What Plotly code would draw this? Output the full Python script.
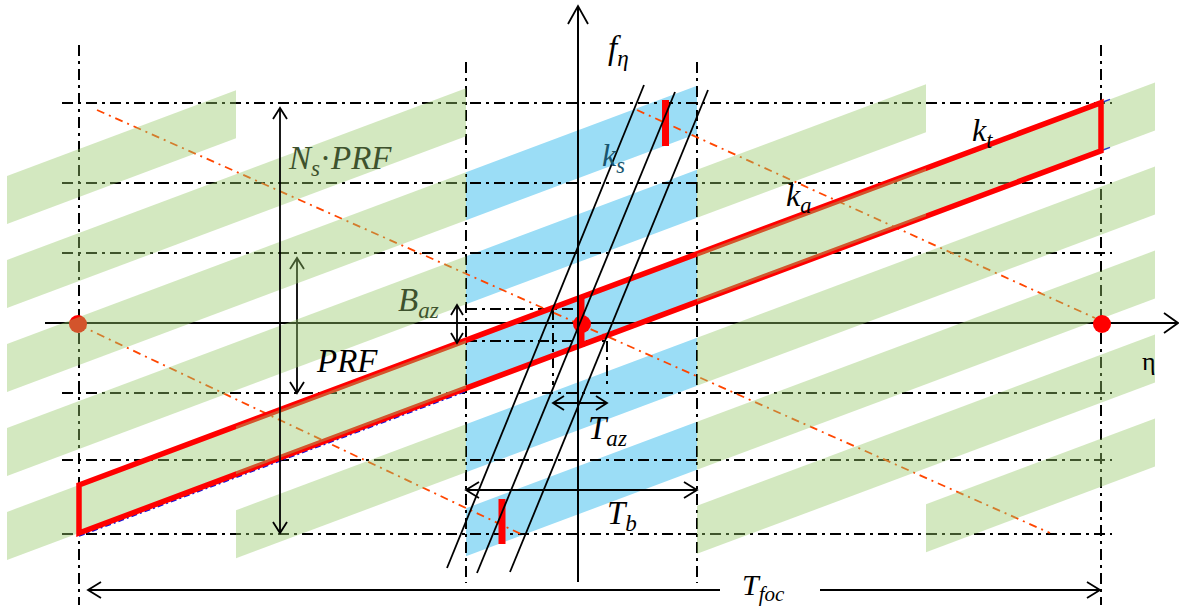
import math
import plotly.graph_objects as go

# ---------------------------------------------------------------------------
# Diagram data (eta to the right, f_eta downward in canvas units)
# ---------------------------------------------------------------------------
# Periodic spectrum replicas, grouped in columns along eta
col_edges = [7, 236, 466, 697, 926, 1155]
col_first_band = [-4, -3, -2, -1, 0]
bands_per_col = 5
col_kind = ["green", "green", "blue", "green", "green"]
col_over_outline = [False, True, False, True, False]

# Reference replica n = 0: top edge through (79, 485) with slope k_t
band_ref_eta, band_ref_f = 79, 485
band_slope = -0.374
band_period = 84
band_height = 48

# k_t outline (focused target support) spans this eta interval
outline_eta = [79, 1101]

# Dash-dot reference grid
grid_f = [103, 183, 253, 393, 460, 534]
grid_f_span = [62, 1112]
grid_eta = [79, 466, 697, 1101]
grid_eta_top = [45, 62, 62, 45]
grid_eta_bottom = [605, 583, 583, 605]

# k_a (azimuth FM rate) lines
ka_lines = [[(97, 110), (1050, 533)],
            [(637, 110), (1095, 318)],
            [(79, 325), (523, 535)]]

# k_s (steering rate) lines
ks_lines = [[(644, 85), (447, 568)],
            [(675, 92), (477, 573)],
            [(708, 90), (510, 572)]]

# Target spectra (bars) and zero-Doppler points
bar_eta = [665.5, 502, 581]
bar_f0 = [100, 499, 298]
bar_f1 = [146, 544, 347]
dot_eta = [78, 582, 1102]
dot_f = [324, 324, 324]

# Dimension arrows: (start, end)
dims = {
    "Ns_PRF": [(280, 108), (280, 533)],
    "PRF": [(297, 258), (297, 393)],
    "B_az": [(457, 305), (457, 343)],
    "T_az": [(553, 403), (607, 403)],
    "T_b": [(466, 490), (697, 490)],
    "T_foc": [(88, 590), (1100, 590)],
}
t_foc_gap = [720, 820]

# Helper dashes for B_az / T_az
baz_levels = [(309, 466, 583), (341, 466, 607)]
taz_marks = [(553, 309, 385), (607, 341, 385)]

# Axes
eta_axis = [(45, 323), (1178, 323)]
f_axis = [(578, 582), (578, 6)]

# ---------------------------------------------------------------------------
GREEN = "rgba(150,200,105,0.42)"
BLUE = "rgb(155,221,246)"
RED = "rgb(255,0,0)"
ORANGE = "rgb(255,70,0)"
BLACK = "black"
DASHDOT = "11px,5px,3px,5px"
ORANGE_DASH = "8px,5px,2px,5px"
FONT = "Liberation Serif"

shapes = []


def band_top(eta, n):
    return band_ref_f + band_slope * (eta - band_ref_eta) + band_period * n


def line(p0, p1, color=BLACK, width=1.8, dash="solid"):
    shapes.append(dict(type="line", xref="x", yref="y",
                       x0=p0[0], y0=p0[1], x1=p1[0], y1=p1[1],
                       line=dict(color=color, width=width, dash=dash)))


def path(d, fill=None, color=BLACK, width=1.8):
    s = dict(type="path", xref="x", yref="y", path=d,
             line=dict(color=color, width=width))
    if fill:
        s["fillcolor"] = fill
        s["line"] = dict(width=0)
    shapes.append(s)


def vhead(tip, frm, length=12, half=7, width=1.8):
    dx, dy = tip[0] - frm[0], tip[1] - frm[1]
    L = math.hypot(dx, dy)
    ux, uy = dx / L, dy / L
    bx, by = tip[0] - ux * length, tip[1] - uy * length
    px, py = -uy, ux
    path(f"M{bx + px * half},{by + py * half} L{tip[0]},{tip[1]} "
         f"L{bx - px * half},{by - py * half}", width=width)


def double_arrow(a, b, length=12, half=7):
    line(a, b)
    vhead(a, b, length, half)
    vhead(b, a, length, half)


def column_bands(i, color):
    x0, x1 = col_edges[i], col_edges[i + 1]
    for k in range(bands_per_col):
        n = col_first_band[i] + k
        y0a, y0b = band_top(x0, n), band_top(x1, n)
        path(f"M{x0},{y0a} L{x1},{y0b} L{x1},{y0b + band_height} "
             f"L{x0},{y0a + band_height} Z", fill=color)


def dot(eta, f, r=9):
    shapes.append(dict(type="circle", xref="x", yref="y",
                       x0=eta - r, x1=eta + r, y0=f - r, y1=f + r,
                       fillcolor=RED, line=dict(width=0)))


# 1. steered (blue) replica column
for i, kind in enumerate(col_kind):
    if kind == "blue":
        column_bands(i, BLUE)

# 2. dash-dot grid
for y in grid_f:
    line((grid_f_span[0], y), (grid_f_span[1], y), width=2, dash=DASHDOT)
for x, t, b in zip(grid_eta, grid_eta_top, grid_eta_bottom):
    line((x, t), (x, b), width=2, dash=DASHDOT)
for y, xa, xb in baz_levels:
    line((xa, y), (xb, y), width=2, dash=DASHDOT)
for x, ya, yb in taz_marks:
    line((x, ya), (x, yb), width=2, dash=DASHDOT)

# 3. eta axis
line(*eta_axis, width=2)
vhead(eta_axis[1], eta_axis[0], length=14, half=10)

# 4. k_a lines
for p0, p1 in ka_lines:
    line(p0, p1, color=ORANGE, width=1.8, dash=ORANGE_DASH)

# 5. left zero-Doppler point and PRF arrow (under the replicas)
dot(dot_eta[0], dot_f[0])
double_arrow(*dims["PRF"], length=11, half=7)

# 6. replicas drawn beneath the outline
for i, kind in enumerate(col_kind):
    if kind == "green" and not col_over_outline[i]:
        column_bands(i, GREEN)

# 7. k_t outline
xa, xb = outline_eta
ta, tb = band_top(xa, 0), band_top(xb, 0)
line((xa, ta + band_height + 3), (466, band_top(466, 0) + band_height + 3),
     color="rgb(20,20,220)", width=1.8, dash="6px,3px,2px,3px")
line((xb, tb), (xb + 9, band_top(xb + 9, 0)), color="rgb(40,60,200)", width=1.5)
line((xb, tb + band_height), (xb + 9, band_top(xb + 9, 0) + band_height),
     color="rgb(40,60,200)", width=1.5)
shapes.append(dict(type="path", xref="x", yref="y",
                   path=f"M{xa},{ta} L{xb},{tb} L{xb},{tb + band_height} "
                        f"L{xa},{ta + band_height} Z",
                   line=dict(color=RED, width=5.5)))

# 8. replicas drawn over the outline
for i, kind in enumerate(col_kind):
    if kind == "green" and col_over_outline[i]:
        column_bands(i, GREEN)

# 9. target spectra and remaining points
for x, y0, y1 in zip(bar_eta, bar_f0, bar_f1):
    line((x, y0), (x, y1), color=RED, width=7)
for x, y in zip(dot_eta[1:], dot_f[1:]):
    dot(x, y)

# 10. k_s lines, f axis, dimension arrows
for p0, p1 in ks_lines:
    line(p0, p1, width=1.8)
line(*f_axis, width=2)
vhead(f_axis[1], f_axis[0], length=18, half=10)

double_arrow(*dims["Ns_PRF"], length=11, half=7)
double_arrow(*dims["B_az"], length=10, half=6)
double_arrow(*dims["T_az"], length=11, half=7)
double_arrow(*dims["T_b"], length=13, half=8)
(a, b) = dims["T_foc"]
line(a, (t_foc_gap[0], a[1]))
line((t_foc_gap[1], b[1]), b)
vhead(a, b, 13, 8)
vhead(b, a, 13, 8)

# ---------------------------------------------------------------------------
labels = [
    ("<i>f</i><sub><i>η</i></sub>", 618, 50, BLACK, 33),
    ("<i>k</i><sub><i>s</i></sub>", 613, 157, "rgb(25,85,110)", 32),
    ("<i>k</i><sub><i>t</i></sub>", 982, 132, BLACK, 32),
    ("<i>k</i><sub><i>a</i></sub>", 798, 197, BLACK, 32),
    ("<i>N</i><sub><i>s</i></sub>·<i>PRF</i>", 340, 160, "rgb(62,82,45)", 33),
    ("<i>B</i><sub><i>az</i></sub>", 418, 302, "rgb(62,82,45)", 33),
    ("<i>PRF</i>", 347, 361, BLACK, 33),
    ("η", 1149, 361, BLACK, 26),
    ("<i>T</i><sub><i>az</i></sub>", 607, 430, BLACK, 33),
    ("<i>T</i><sub><i>b</i></sub>", 622, 515, BLACK, 33),
    ("<i>T</i><sub><i>foc</i></sub>", 763, 587, BLACK, 30),
]
annotations = [dict(text=t, x=x, y=y, xref="x", yref="y", showarrow=False,
                    xanchor="center", yanchor="middle",
                    font=dict(family=FONT, size=s, color=c))
               for t, x, y, c, s in labels]

fig = go.Figure(go.Scatter(x=[0, 1179], y=[0, 611], mode="markers",
                           marker=dict(opacity=0), hoverinfo="skip"))
fig.update_layout(
    width=1179, height=611,
    margin=dict(l=0, r=0, t=0, b=0),
    paper_bgcolor="white", plot_bgcolor="white",
    xaxis=dict(range=[0, 1179], visible=False, fixedrange=True),
    yaxis=dict(range=[611, 0], visible=False, fixedrange=True),
    showlegend=False,
    shapes=shapes,
    annotations=annotations,
)
fig.write_html("out.html")
